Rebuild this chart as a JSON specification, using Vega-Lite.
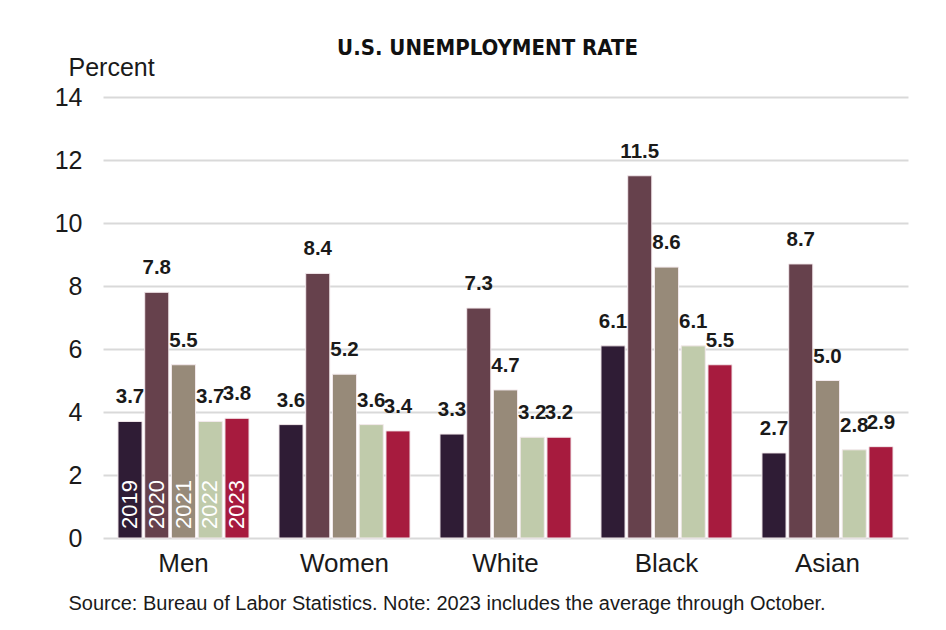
{
  "$schema": "https://vega.github.io/schema/vega-lite/v6.json",
  "width": 805,
  "height": 441,
  "autosize": {"type": "none"},
  "padding": {"left": 103, "top": 97, "right": 38, "bottom": 92},
  "background": "white",
  "title": {
    "text": "U.S. UNEMPLOYMENT RATE",
    "font": "DejaVu Sans Condensed, Liberation Sans, sans-serif",
    "fontSize": 22,
    "fontWeight": "bold",
    "color": "#111111",
    "anchor": "middle",
    "baseline": "bottom",
    "dx": -18,
    "offset": -27
  },
  "data": {
    "values": [
      {"group": "Men", "year": "2019", "rate": 3.7},
      {"group": "Men", "year": "2020", "rate": 7.8},
      {"group": "Men", "year": "2021", "rate": 5.5},
      {"group": "Men", "year": "2022", "rate": 3.7},
      {"group": "Men", "year": "2023", "rate": 3.8},
      {"group": "Women", "year": "2019", "rate": 3.6},
      {"group": "Women", "year": "2020", "rate": 8.4},
      {"group": "Women", "year": "2021", "rate": 5.2},
      {"group": "Women", "year": "2022", "rate": 3.6},
      {"group": "Women", "year": "2023", "rate": 3.4},
      {"group": "White", "year": "2019", "rate": 3.3},
      {"group": "White", "year": "2020", "rate": 7.3},
      {"group": "White", "year": "2021", "rate": 4.7},
      {"group": "White", "year": "2022", "rate": 3.2},
      {"group": "White", "year": "2023", "rate": 3.2},
      {"group": "Black", "year": "2019", "rate": 6.1},
      {"group": "Black", "year": "2020", "rate": 11.5},
      {"group": "Black", "year": "2021", "rate": 8.6},
      {"group": "Black", "year": "2022", "rate": 6.1},
      {"group": "Black", "year": "2023", "rate": 5.5},
      {"group": "Asian", "year": "2019", "rate": 2.7},
      {"group": "Asian", "year": "2020", "rate": 8.7},
      {"group": "Asian", "year": "2021", "rate": 5.0},
      {"group": "Asian", "year": "2022", "rate": 2.8},
      {"group": "Asian", "year": "2023", "rate": 2.9}
    ]
  },
  "encoding": {
    "x": {
      "field": "group",
      "type": "nominal",
      "sort": ["Men", "Women", "White", "Black", "Asian"],
      "scale": {"paddingInner": 0.186, "paddingOuter": 0.093},
      "axis": {
        "title": "Source: Bureau of Labor Statistics. Note: 2023 includes the average through October.",
        "titleFont": "Liberation Sans",
        "titleFontSize": 20,
        "titleFontWeight": "normal",
        "titleColor": "#1a1a1a",
        "titleAnchor": "start",
        "titleAlign": "left",
        "titleBaseline": "middle",
        "titleX": -35,
        "titleY": 65,
        "labelAngle": 0,
        "labelFont": "Liberation Sans",
        "labelFontSize": 26,
        "labelColor": "#1a1a1a",
        "labelPadding": 12,
        "ticks": false,
        "domain": false,
        "grid": false
      }
    },
    "xOffset": {
      "field": "year",
      "type": "nominal",
      "scale": {"paddingInner": 0.1, "paddingOuter": 0}
    },
    "y": {
      "field": "rate",
      "type": "quantitative",
      "scale": {"domain": [0, 14], "nice": false},
      "axis": {
        "values": [0, 2, 4, 6, 8, 10, 12, 14],
        "title": "Percent",
        "titleFont": "Liberation Sans",
        "titleFontSize": 25,
        "titleFontWeight": "normal",
        "titleColor": "#1a1a1a",
        "titleAngle": 0,
        "titleAlign": "left",
        "titleBaseline": "middle",
        "titleX": -35,
        "titleY": -30,
        "labelFont": "Liberation Sans",
        "labelFontSize": 25,
        "labelColor": "#1a1a1a",
        "labelPadding": 21,
        "ticks": false,
        "domain": false,
        "grid": true,
        "gridColor": "#d9d9d9",
        "gridWidth": 2
      }
    }
  },
  "layer": [
    {
      "mark": {"type": "bar", "stroke": "#f3e9ec", "strokeWidth": 1},
      "encoding": {
        "color": {
          "field": "year",
          "type": "nominal",
          "scale": {
            "domain": ["2019", "2020", "2021", "2022", "2023"],
            "range": ["#2f1c35", "#66414c", "#978a79", "#c0cbab", "#a71b3e"]
          },
          "legend": null
        }
      }
    },
    {
      "mark": {
        "type": "text",
        "font": "Liberation Sans",
        "fontSize": 20.5,
        "fontWeight": "bold",
        "color": "#1a1a1a",
        "baseline": "middle",
        "align": "center",
        "dy": -24
      },
      "encoding": {
        "text": {"field": "rate", "type": "quantitative", "format": ".1f"}
      }
    },
    {
      "transform": [{"filter": "datum.group === 'Men'"}],
      "mark": {
        "type": "text",
        "font": "Liberation Sans",
        "fontSize": 22,
        "color": "white",
        "angle": 270,
        "align": "left",
        "baseline": "middle",
        "dx": 9
      },
      "encoding": {
        "y": {"datum": 0},
        "text": {"field": "year", "type": "nominal"}
      }
    }
  ],
  "config": {"view": {"stroke": null}}
}
